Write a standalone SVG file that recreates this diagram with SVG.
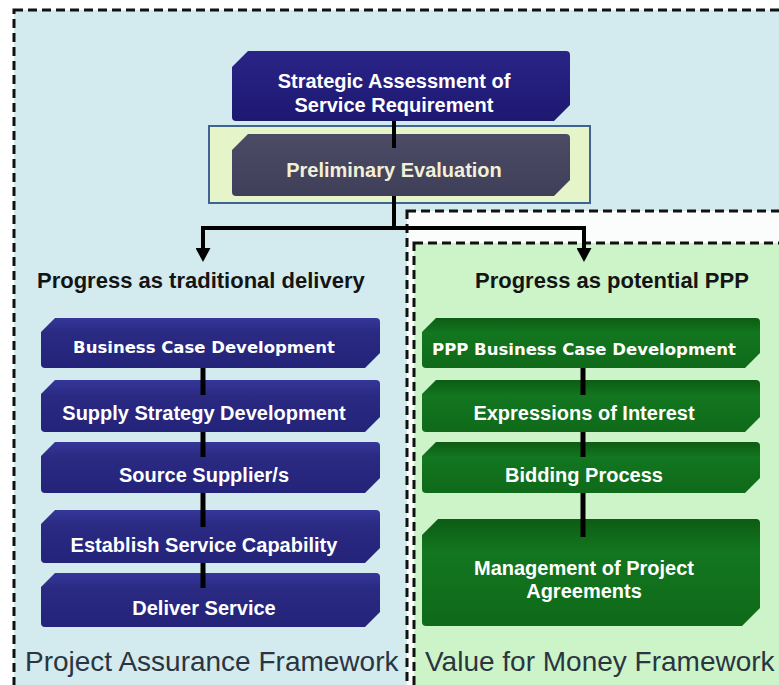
<svg xmlns="http://www.w3.org/2000/svg" width="779" height="685" viewBox="0 0 779 685">
  <style>
    .frame { stroke: #111; stroke-width: 3; stroke-dasharray: 9 5; }
    .navy { fill: url(#gNavy); }
    .green { fill: url(#gGreen); }
    .lbl { font-family: "Liberation Sans", Arial, sans-serif; font-weight: bold; font-size: 20px; fill: #ffffff; text-anchor: middle; }
    .wide { font-family: "DejaVu Sans", Verdana, sans-serif; font-weight: bold; font-size: 16.5px; fill: #ffffff; text-anchor: middle; }
    .head { font-family: "Liberation Sans", Arial, sans-serif; font-weight: bold; font-size: 22px; fill: #141414; }
    .foot { font-family: "Liberation Sans", Arial, sans-serif; font-size: 28px; fill: #2b3540; }
    .wire { fill: none; stroke: #000; stroke-width: 4; }
    .link { fill: none; stroke: #000; stroke-width: 5; }
  </style>
  <defs>
    <linearGradient id="gNavy" x1="0" y1="0" x2="0" y2="1">
      <stop offset="0" stop-color="#36369a"/>
      <stop offset="0.3" stop-color="#2a2a82"/>
      <stop offset="1" stop-color="#23237a"/>
    </linearGradient>
    <linearGradient id="gIndigo" x1="0" y1="0" x2="0" y2="1">
      <stop offset="0" stop-color="#2a2488"/>
      <stop offset="1" stop-color="#1d1870"/>
    </linearGradient>
    <linearGradient id="gSlate" x1="0" y1="0" x2="0" y2="1">
      <stop offset="0" stop-color="#4c4b66"/>
      <stop offset="1" stop-color="#403f5a"/>
    </linearGradient>
    <linearGradient id="gGreen" x1="0" y1="0" x2="0" y2="1">
      <stop offset="0" stop-color="#0c5c13"/>
      <stop offset="0.3" stop-color="#137620"/>
      <stop offset="1" stop-color="#0f6a19"/>
    </linearGradient>
    <marker id="arrow" markerUnits="userSpaceOnUse" markerWidth="15" markerHeight="15" viewBox="0 0 15 15" refX="1" refY="7.5" orient="auto">
      <path d="M0,0 L14,7.5 L0,15 z" fill="#000"/>
    </marker>
  </defs>

  <!-- backgrounds and dashed framework borders -->
  <rect x="0" y="0" width="779" height="685" fill="#ffffff"/>
  <rect x="14" y="10" width="800" height="700" fill="#d3ebee" class="frame"/>
  <rect x="407" y="211" width="400" height="500" fill="#fbfdfd" class="frame"/>
  <rect x="414" y="243" width="400" height="500" fill="#cdf3c9" class="frame"/>

  <!-- top of flow -->
  <g id="strategic-assessment">
    <path d="M248,51 H566 Q570,51 570,55 V105 L554,121 H236 Q232,121 232,117 V67 Z" fill="url(#gIndigo)"/>
    <text class="lbl" x="394" y="88">Strategic Assessment of</text>
    <text class="lbl" x="394" y="112">Service Requirement</text>
  </g>

  <g id="preliminary-evaluation">
    <rect x="209" y="126" width="381" height="77" fill="#e6f4c9" stroke="#3e6496" stroke-width="2"/>
    <path d="M248,134 H566 Q570,134 570,138 V180 L554,196 H236 Q232,196 232,192 V150 Z" fill="url(#gSlate)"/>
    <text class="lbl" x="394" y="177" style="fill:#f3f0d6">Preliminary Evaluation</text>
  </g>

  <!-- section headings -->
  <g id="heading-traditional">
    <text class="head" x="37" y="288">Progress as traditional delivery</text>
  </g>
  <g id="heading-ppp">
    <text class="head" x="475" y="288">Progress as potential PPP</text>
  </g>

  <!-- traditional delivery column -->
  <g id="business-case">
    <path class="navy" d="M55,318 H376 Q380,318 380,322 V353 L365,368 H45 Q41,368 41,364 V332 Z"/>
    <text class="wide" x="204" y="353">Business Case Development</text>
  </g>
  <g id="supply-strategy">
    <path class="navy" d="M55,380 H376 Q380,380 380,384 V417 L365,432 H45 Q41,432 41,428 V394 Z"/>
    <text class="lbl" x="204" y="420">Supply Strategy Development</text>
  </g>
  <g id="source-suppliers">
    <path class="navy" d="M55,442 H376 Q380,442 380,446 V478 L365,493 H45 Q41,493 41,489 V456 Z"/>
    <text class="lbl" x="204" y="482">Source Supplier/s</text>
  </g>
  <g id="establish-capability">
    <path class="navy" d="M55,510 H376 Q380,510 380,514 V548 L365,563 H45 Q41,563 41,559 V524 Z"/>
    <text class="lbl" x="204" y="552">Establish Service Capability</text>
  </g>
  <g id="deliver-service">
    <path class="navy" d="M55,573 H376 Q380,573 380,577 V612 L365,627 H45 Q41,627 41,623 V587 Z"/>
    <text class="lbl" x="204" y="615">Deliver Service</text>
  </g>

  <!-- PPP column -->
  <g id="ppp-business-case">
    <path class="green" d="M436,318 H756 Q760,318 760,322 V353 L745,368 H426 Q422,368 422,364 V332 Z"/>
    <text class="wide" x="584" y="355">PPP Business Case Development</text>
  </g>
  <g id="expressions-of-interest">
    <path class="green" d="M436,380 H756 Q760,380 760,384 V417 L745,432 H426 Q422,432 422,428 V394 Z"/>
    <text class="lbl" x="584" y="420">Expressions of Interest</text>
  </g>
  <g id="bidding-process">
    <path class="green" d="M436,442 H756 Q760,442 760,446 V478 L745,493 H426 Q422,493 422,489 V456 Z"/>
    <text class="lbl" x="584" y="482">Bidding Process</text>
  </g>
  <g id="project-agreements">
    <path class="green" d="M438,519 H756 Q760,519 760,523 V608 L742,626 H426 Q422,626 422,622 V535 Z"/>
    <text class="lbl" x="584" y="575">Management of Project</text>
    <text class="lbl" x="584" y="598">Agreements</text>
  </g>

  <!-- connectors -->
  <g id="connectors">
    <path class="wire" d="M394,121 V148"/>
    <path class="wire" d="M394,196 V228 H203 V249" marker-end="url(#arrow)"/>
    <path class="wire" d="M394,228 H584 V249" marker-end="url(#arrow)"/>
    <path class="link" d="M203,368 V395"/>
    <path class="link" d="M203,432 V457"/>
    <path class="link" d="M203,493 V527"/>
    <path class="link" d="M203,563 V588"/>
    <path class="link" d="M583,368 V395"/>
    <path class="link" d="M583,432 V457"/>
    <path class="link" d="M583,493 V537"/>
  </g>

  <!-- framework captions -->
  <g id="caption-assurance">
    <text class="foot" x="25" y="671">Project Assurance Framework</text>
  </g>
  <g id="caption-value">
    <text class="foot" x="425" y="671">Value for Money Framework</text>
  </g>
</svg>
